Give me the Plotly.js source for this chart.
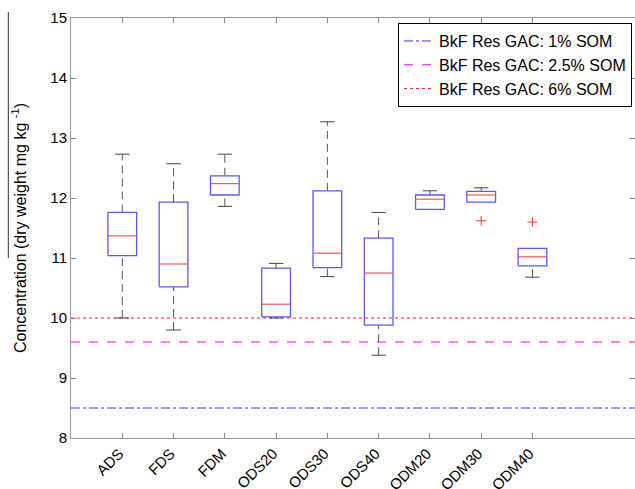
<!DOCTYPE html>
<html>
<head>
<meta charset="utf-8">
<script src="https://cdn.plot.ly/plotly-3.0.1.min.js"></script>
<style>html,body{margin:0;padding:0;background:#fff;overflow:hidden;}#chart{width:635px;height:489px;}</style>
</head>
<body>
<div id="chart"></div>
<script>
// ---- data ----
var categories = ['ADS','FDS','FDM','ODS20','ODS30','ODS40','ODM20','ODM30','ODM40'];
var lowerWhisker = [10.00, 9.80, 11.86, 10.00, 10.69, 9.38, 11.81, 11.93, 10.68];
var q1           = [11.04, 10.52, 12.05, 10.02, 10.84, 9.88, 11.81, 11.93, 10.87];
var medians      = [11.37, 10.90, 12.24, 10.23, 11.08, 10.75, 11.98, 12.05, 11.02];
var q3           = [11.76, 11.93, 12.37, 10.83, 12.12, 11.33, 12.05, 12.11, 11.16];
var upperWhisker = [12.73, 12.57, 12.73, 10.91, 13.27, 11.76, 12.12, 12.17, 11.16];
var outlierCats  = ['ODM30', 'ODM40'];
var outlierVals  = [11.62, 11.60];
var refNames  = ['BkF Res GAC: 1% SOM', 'BkF Res GAC: 2.5% SOM', 'BkF Res GAC: 6% SOM'];
var refValues = [8.5, 9.6, 10.0];

// ---- styles ----
var boxHalf = 0.28, capHalf = 0.14;
var pos = categories.map(function(c, i){ return i + 1; });

var boxX = [], boxY = [], medX = [], medY = [], whX = [], whY = [], capX = [], capY = [];
pos.forEach(function(p, i){
  boxX.push(p-boxHalf, p+boxHalf, p+boxHalf, p-boxHalf, p-boxHalf, null);
  boxY.push(q1[i], q1[i], q3[i], q3[i], q1[i], null);
  medX.push(p-boxHalf, p+boxHalf, null);
  medY.push(medians[i], medians[i], null);
  if (upperWhisker[i] > q3[i]) {
    whX.push(p, p, null); whY.push(q3[i], upperWhisker[i], null);
    capX.push(p-capHalf, p+capHalf, null); capY.push(upperWhisker[i], upperWhisker[i], null);
  }
  if (lowerWhisker[i] < q1[i]) {
    whX.push(p, p, null); whY.push(lowerWhisker[i], q1[i], null);
    capX.push(p-capHalf, p+capHalf, null); capY.push(lowerWhisker[i], lowerWhisker[i], null);
  }
});

var refColors = ['#3a3aff', '#ff00ff', '#ff2020'];
var refDash = ['dashdot', 'dash', 'dot'];
var traces = [];
refNames.forEach(function(n, k){
  traces.push({x:[0, 11], y:[refValues[k], refValues[k]], mode:'lines', name:n,
    line:{color:refColors[k], width:1, dash:refDash[k]}, hoverinfo:'skip'});
});
traces.push({x:whX, y:whY, mode:'lines', showlegend:false, line:{color:'#555555', width:1, dash:'8px,5px'}});
traces.push({x:capX, y:capY, mode:'lines', showlegend:false, line:{color:'#444444', width:1}});
traces.push({x:boxX, y:boxY, mode:'lines', showlegend:false, line:{color:'#5a5aff', width:1.3}});
traces.push({x:medX, y:medY, mode:'lines', showlegend:false, line:{color:'#ff5555', width:1.2}});
traces.push({x:outlierCats.map(function(c){ return categories.indexOf(c) + 1; }), y:outlierVals,
  mode:'markers', showlegend:false, marker:{symbol:'cross-thin', size:7, line:{color:'#ff3333', width:1}}});
// helper trace so the mirrored (top / right) tick axes are drawn
traces.push({x:[null], y:[null], xaxis:'x2', yaxis:'y2', mode:'markers', showlegend:false});

var layout = {
  width:635, height:489,
  margin:{l:71, r:0, t:18, b:51},
  paper_bgcolor:'#fff', plot_bgcolor:'#fff',
  font:{family:'Liberation Sans, Arial, sans-serif', size:15, color:'#000'},
  showlegend:true,
  legend:{x:0.9947, xanchor:'right', y:0.988, yanchor:'top', bgcolor:'#fff', bordercolor:'#000', borderwidth:1,
    font:{size:16}, tracegroupgap:0},
  xaxis:{range:[0, 11], tickvals:pos, ticktext:categories, tickangle:-45, ticks:'inside', ticklen:5,
    tickcolor:'#888', showline:true, linecolor:'#999', linewidth:1, showgrid:false,
    zeroline:false, tickfont:{size:15}, ticklabelshift:-3, ticklabelstandoff:0},
  xaxis2:{overlaying:'x', side:'top', anchor:'y', range:[0, 11], tickvals:pos, showticklabels:false,
    ticks:'inside', ticklen:5, tickcolor:'#888', showline:true, linecolor:'#999', linewidth:1,
    showgrid:false, zeroline:false},
  yaxis:{range:[8, 15], dtick:1, ticks:'inside', ticklen:5, tickcolor:'#888', showline:true,
    linecolor:'#999', linewidth:1, showgrid:false, zeroline:false, tickfont:{size:15},
    title:{text:'Concentration (dry weight mg kg <sup>-1</sup>)', font:{size:16}, standoff:19}},
  yaxis2:{overlaying:'y', side:'right', anchor:'x', range:[8, 15], dtick:1, showticklabels:false,
    ticks:'inside', ticklen:5, tickcolor:'#888', showline:false, showgrid:false, zeroline:false},
  shapes:[{type:'line', xref:'paper', yref:'paper', x0:-0.111, x1:-0.111, y0:1.014, y1:0.4286,
    line:{color:'#555', width:1.2}}]
};
Plotly.newPlot('chart', traces, layout, {staticPlot:true});
</script>
</body>
</html>
